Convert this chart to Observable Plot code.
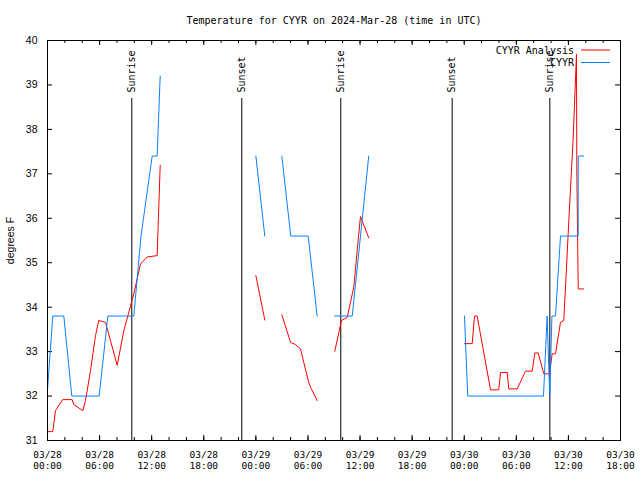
<!DOCTYPE html>
<html><head><meta charset="utf-8">
<script src="https://cdn.jsdelivr.net/npm/d3@7"></script>
<script src="https://cdn.jsdelivr.net/npm/@observablehq/plot@0.6"></script>
<style>body{margin:0;background:#fff}</style>
</head><body><div id="chart"></div>
<script>
const titleText = "Temperature for CYYR on 2024-Mar-28 (time in UTC)";
const yLabel = "degrees F";
const seriesNames = ["CYYR Analysis", "CYYR"];

// hours since 2024-03-28 00:00 UTC; null = gap in the record
const analysisHours = [0, 0.61, 0.92, 1.3, 1.76, 2.84, 3.03, 4.07, 4.38, 4.95, 5.53, 5.91, 6.68, 8.03, 8.79, 9.94, 10.71, 11.48, 12.63, 12.98, null,
  24.0, 25.03, null,
  26.99, 27.99, 28.56, 29.14, 30.03, 30.29, 31.06, null,
  33.09, 33.86, 34.52, 35.28, 35.67, 36.05, 37.0, null,
  48.03, 48.92, 49.18, 49.49, 51.03, 51.98, 52.18, 52.95, 53.13, 54.10, 55.06, 55.83, 56.13, 56.52, 57.16, 57.82, 58.13, 58.51, 59.09, 59.47, 60.05, 60.55, 60.93, 60.97, 61.13, 61.77];
const analysisTemps = [31.2, 31.2, 31.67, 31.79, 31.92, 31.92, 31.81, 31.67, 31.9, 32.57, 33.36, 33.7, 33.66, 32.69, 33.47, 34.3, 34.97, 35.13, 35.16, 37.19, null,
  34.71, 33.71, null,
  33.83, 33.21, 33.16, 33.06, 32.35, 32.2, 31.9, null,
  33.01, 33.7, 33.77, 34.45, 35.27, 36.04, 35.56, null,
  33.18, 33.18, 33.8, 33.8, 32.14, 32.14, 32.53, 32.53, 32.16, 32.16, 32.56, 32.56, 32.97, 32.97, 32.5, 32.5, 32.95, 32.95, 33.66, 33.7, 35.95, 37.8, 39.69, 37.04, 34.41, 34.41];

const obsHours = [0, 0.61, 1.88, 2.80, 5.95, 6.95, 9.94, 10.77, 12.06, 12.63, 12.98, null,
  24.0, 25.03, null,
  26.99, 28.02, 30.03, 31.06, null,
  33.06, 35.1, 36.05, 37.0, null,
  48.03, 48.4, 57.13, 57.55, 57.85, 58.1, 58.51, 59.09, 61.12, 61.13, 61.77];
const obsTemps = [32.14, 33.8, 33.8, 32.0, 32.0, 33.8, 33.8, 35.6, 37.4, 37.4, 39.2, null,
  37.4, 35.6, null,
  37.4, 35.6, 35.6, 33.8, null,
  33.8, 33.8, 35.6, 37.4, null,
  33.8, 32.0, 32.0, 33.8, 32.0, 33.8, 33.8, 35.6, 35.6, 37.4, 37.4];

const sunHours = [9.71, 22.38, 33.78, 46.61, 57.86];
const sunLabels = ["Sunrise", "Sunset", "Sunrise", "Sunset", "Sunrise"];

const xTickHours = [0, 6, 12, 18, 24, 30, 36, 42, 48, 54, 60, 66];
const xTickLabels = ["03/28\n00:00", "03/28\n06:00", "03/28\n12:00", "03/28\n18:00",
  "03/29\n00:00", "03/29\n06:00", "03/29\n12:00", "03/29\n18:00",
  "03/30\n00:00", "03/30\n06:00", "03/30\n12:00", "03/30\n18:00"];
const xMinorHours = [0, 2, 4, 6, 8, 10, 12, 14, 16, 18, 20, 22, 24, 26, 28, 30, 32, 34, 36, 38, 40, 42, 44, 46, 48, 50, 52, 54, 56, 58, 60, 62, 64, 66];
const yTicks = [31, 32, 33, 34, 35, 36, 37, 38, 39, 40];

const RED = "#ff0000", BLUE = "#0a80ff";
const COLORS = [RED, BLUE];
const MONO = "'DejaVu Sans Mono', monospace";
const SANS = "'Liberation Sans', Arial, sans-serif";

const W = 640, H = 480, mL = 47, mR = 20, mT = 40, mB = 40;
const fW = W - mL - mR, fH = H - mT - mB;

const analysis = analysisHours.map((h, i) => ({hour: h, temp: analysisTemps[i]}));
const obs = obsHours.map((h, i) => ({hour: h, temp: obsTemps[i]}));
const sun = sunHours.map((h, i) => ({hour: h, label: sunLabels[i]}));

const chart = Plot.plot({
  width: W, height: H,
  marginLeft: mL, marginRight: mR, marginTop: mT, marginBottom: mB,
  style: {fontFamily: MONO, fontSize: "10px", background: "#fff", color: "#000"},
  x: {domain: [0, 66], axis: null, label: null},
  y: {domain: [31, 40], axis: null, label: null},
  marks: [
    Plot.tickX(xMinorHours, {x: d => d, insetTop: fH - 3, stroke: "#000"}),
    Plot.tickX(xMinorHours, {x: d => d, insetBottom: fH - 3, stroke: "#000"}),
    Plot.tickX(xTickHours, {x: d => d, insetTop: fH - 5, stroke: "#000"}),
    Plot.tickX(xTickHours, {x: d => d, insetBottom: fH - 5, stroke: "#000"}),
    Plot.tickY(yTicks, {y: d => d, insetRight: fW - 5, stroke: "#000"}),
    Plot.tickY(yTicks, {y: d => d, insetLeft: fW - 5, stroke: "#000"}),
    Plot.ruleX(sun, {x: "hour", insetTop: 58, stroke: "#000", strokeWidth: 1}),
    Plot.text(sun, {x: "hour", text: "label", frameAnchor: "top", dy: 52, rotate: -90,
      textAnchor: "start", lineAnchor: "middle", fontFamily: MONO, fontSize: 10, fill: "#000"}),
    Plot.line(analysis, {x: "hour", y: "temp", stroke: RED, strokeWidth: 1}),
    Plot.line(obs, {x: "hour", y: "temp", stroke: BLUE, strokeWidth: 1}),
    Plot.frame({stroke: "#000"}),
    Plot.axisX(xTickHours, {anchor: "bottom", tickSize: 0, tickPadding: 10, label: null,
      tickFormat: d => xTickLabels[xTickHours.indexOf(d)], fontFamily: MONO, fontSize: 9.5, lineHeight: 1.15}),
    Plot.axisY(yTicks, {anchor: "left", tickSize: 0, tickPadding: 10, label: null, fontFamily: SANS, fontSize: 10.5}),
    Plot.text([titleText], {text: d => d, frameAnchor: "top", dy: -20, lineAnchor: "middle",
      fontFamily: MONO, fontSize: 10, fill: "#000"}),
    Plot.text([yLabel], {text: d => d, frameAnchor: "left", dx: -37, rotate: -90,
      textAnchor: "middle", lineAnchor: "middle", fontFamily: SANS, fontSize: 10.5, fill: "#000"})
  ]
});

// legend inside the top-right of the frame
const svg = d3.select(chart);
const lg = svg.append("g").attr("font-family", MONO).attr("font-size", 10).attr("fill", "#000");
seriesNames.forEach((name, i) => {
  const y = mT + 10 + i * 12.5;
  lg.append("text").attr("x", W - mR - 46).attr("y", y).attr("dy", "0.35em")
    .attr("text-anchor", "end").text(name);
  lg.append("line").attr("x1", W - mR - 39).attr("x2", W - mR - 10)
    .attr("y1", y).attr("y2", y).attr("stroke", COLORS[i]).attr("stroke-width", 1);
});

document.getElementById("chart").appendChild(chart);
</script>
</body></html>
